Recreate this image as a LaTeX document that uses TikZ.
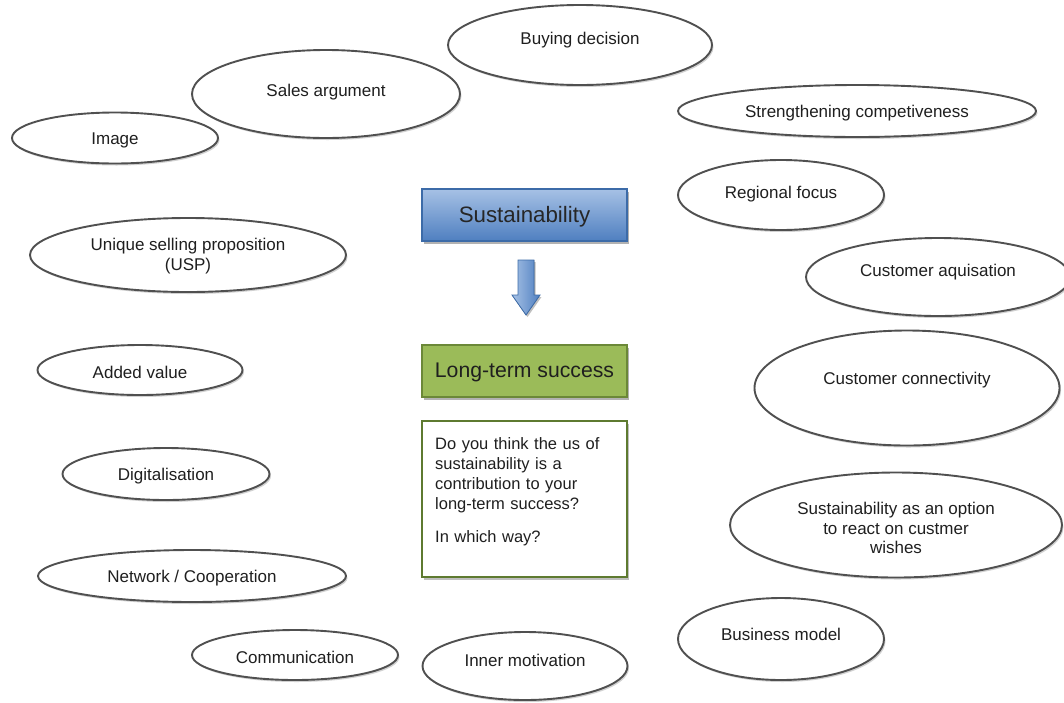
\documentclass[tikz,border=0pt]{standalone}
\usepackage{fontspec}
\setmainfont{Liberation Sans}
\usetikzlibrary{shapes.geometric,shadows}
\definecolor{rim}{HTML}{505050}
\definecolor{blueTop}{HTML}{A6C1E5}
\definecolor{blueBot}{HTML}{4F7FC0}
\definecolor{blueRim}{HTML}{3C6BA8}
\definecolor{greenFill}{HTML}{9BBB59}
\definecolor{greenRim}{HTML}{6B8838}
\definecolor{qRim}{HTML}{5E7A30}
\tikzset{
  bubble/.style={ellipse, draw=rim, line width=1.9pt, fill=white, inner sep=0pt,
    drop shadow={shadow xshift=1.5pt, shadow yshift=-2pt, opacity=0.18, fill=black}},
  btext/.style={font=\fontsize{17}{19.5}\selectfont, align=center, text=black!88, inner sep=0pt},
  headbox/.style={minimum width=205pt, minimum height=52pt, inner sep=0pt, line width=1.3pt,
    drop shadow={shadow xshift=2pt, shadow yshift=-2.5pt, opacity=0.3, fill=black}},
}
% \bub{name}{cx}{cy}{width}{height}{text y}{text}
\newcommand\bub[7]{%
  \node[bubble, minimum width=#4pt, minimum height=#5pt] (#1) at (#2,#3) {};
  \node[btext] (#1-t) at (#2,#6+2) {#7};}
% lower a label without changing the box it occupies
\newcommand\lowered[2]{\raisebox{-#1}[\height][\depth]{#2}}
\begin{document}
\begin{tikzpicture}[x=1pt,y=-1pt]
\useasboundingbox (0,0) rectangle (1064,702);

% surrounding idea bubbles
\bub{buy}{580}{45}{264}{80}{38}{Buying decision}
\bub{sales}{326}{94}{268}{88}{90}{Sales argument}
\bub{image}{115}{138}{206}{51}{138}{Image}
\bub{strength}{857}{111}{358}{52}{111}{Strengthening competiveness}
\bub{regional}{781}{195}{206}{70}{192}{Regional focus}
\bub{usp}{188}{255}{316}{74}{254}{Unique selling proposition\\(USP)}
\bub{acq}{938}{277}{264}{78}{270}{Customer aquisation}
\bub{added}{140}{370}{205}{50}{370}{Added value}
\bub{conn}{907}{388}{305}{115}{378}{Customer connectivity}
\bub{digital}{166}{474}{207}{52}{474}{Digitalisation}
\bub{option}{896}{525}{332}{105}{526}{Sustainability as an option\\to react on custmer\\wishes}
\bub{network}{192}{576}{308}{52}{576}{Network / Cooperation}
\bub{business}{781}{639}{206}{82}{632}{Business model}
\bub{comm}{295}{655}{206}{50}{655}{Communication}
\bub{inner}{525}{666}{205}{68}{658}{Inner motivation}

% central column
\node[headbox, draw=blueRim, top color=blueTop, bottom color=blueBot,
      font=\fontsize{22.3}{26}\selectfont, text=black!85] (sus) at (524.5,215) {\lowered{2pt}{Sustainability}};

\fill[left color=blueTop, right color=blueBot, draw=blueRim, line width=0.8pt,
      drop shadow={shadow xshift=1.5pt, shadow yshift=-2pt, opacity=0.25, fill=black}]
  (518,260) -- (534,260) -- (534,295) -- (540,295) -- (526,315) -- (512,295) -- (518,295) -- cycle;

\node[headbox, draw=greenRim, fill=greenFill,
      font=\fontsize{21.2}{25}\selectfont, text=black!88] (success) at (524.5,371) {\lowered{1pt}{Long-term success}};

\node[draw=qRim, line width=1.6pt, fill=white, minimum width=205pt, minimum height=156pt,
      drop shadow={shadow xshift=2pt, shadow yshift=-2.5pt, opacity=0.25, fill=black}]
  (qbox) at (524.5,499) {};
\node[anchor=north west, inner sep=0pt, align=left, text width=185pt,
      font=\fontsize{16.5}{20}\selectfont, text=black!88] (question) at (435,437.5)
  {Do you think the us of\\sustainability is a\\contribution to your\\long-term success?\\[13pt]In which way?};
\end{tikzpicture}
\end{document}
